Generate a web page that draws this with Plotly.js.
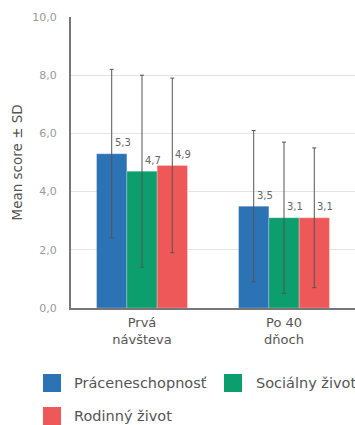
<!DOCTYPE html>
<html>
<head>
<meta charset="utf-8">
<script src="https://cdn.plot.ly/plotly-3.0.1.min.js"></script>
<style>html,body{margin:0;padding:0;background:#fff;overflow:hidden;}#chart{width:355px;height:425px;}</style>
</head>
<body>
<div id="chart"></div>
<script>
const categories = ["Prvá<br>návšteva", "Po 40<br>dňoch"];
const seriesNames = ["Práceneschopnosť", "Sociálny život", "Rodinný život"];
const praceneschopnost = [5.3, 3.5];
const socialny = [4.7, 3.1];
const rodinny = [4.9, 3.1];
const sdPrace = [2.9, 2.6];
const sdSocial = [3.3, 2.6];
const sdRodin = [3.0, 2.4];
const yTicks = [0, 2, 4, 6, 8, 10];
const yTitle = "Mean score ± SD";

const colors = ["#2c73b5", "#0c9e6c", "#ef5858"];
const values = [praceneschopnost, socialny, rodinny];
const sds = [sdPrace, sdSocial, sdRodin];
const bargap = 0.36;
const FONT = "DejaVu Sans, Verdana, sans-serif";

// plot-area geometry (pixels) used to convert layout positions to paper units
const M = {l: 71, r: 0, t: 17, b: 117};
const W = 355, H = 425;
const pw = W - M.l - M.r, ph = H - M.t - M.b;
const px = v => (v - M.l) / pw;
const py = v => (H - M.b - v) / ph;

const traces = values.map((v, i) => ({
  type: "bar",
  name: seriesNames[i],
  x: categories,
  y: v,
  marker: {color: colors[i], line: {color: "rgba(255,255,255,0.5)", width: 0.5}},
  error_y: {type: "data", array: sds[i], visible: true, color: "#555", thickness: 1, width: 2}
}));

const barW = (1 - bargap) / 3;
const annotations = [];
values.forEach((v, i) => {
  v.forEach((val, c) => {
    annotations.push({
      x: c + (i - 1) * barW, y: val, xref: "x", yref: "y",
      text: val.toFixed(1).replace(".", ","),
      showarrow: false, xanchor: "left", yanchor: "middle",
      xshift: 1, yshift: 11,
      font: {family: FONT, size: 10, color: "#666"}
    });
  });
});

// y-axis title
annotations.push({
  x: px(16), y: 0.5, xref: "paper", yref: "paper",
  text: yTitle, textangle: -90, showarrow: false,
  xanchor: "center", yanchor: "middle",
  font: {family: FONT, size: 13.5, color: "#555"}
});

// legend (custom, larger swatches)
const legendPos = [
  {sx: 43, sy: 374, tx: 72},
  {sx: 224, sy: 374, tx: 254},
  {sx: 43, sy: 407, tx: 72}
];
const shapes = [];
seriesNames.forEach((name, i) => {
  const p = legendPos[i];
  shapes.push({
    type: "rect", xref: "paper", yref: "paper",
    x0: px(p.sx), x1: px(p.sx + 18), y0: py(p.sy), y1: py(p.sy + 18),
    fillcolor: colors[i], line: {width: 0}
  });
  annotations.push({
    x: px(p.tx), y: py(p.sy + 9), xref: "paper", yref: "paper",
    text: name, showarrow: false, xanchor: "left", yanchor: "middle",
    font: {family: FONT, size: 14.5, color: "#555"}
  });
});

const layout = {
  width: W, height: H,
  margin: M,
  paper_bgcolor: "#fff", plot_bgcolor: "#fff",
  font: {family: FONT, color: "#555"},
  barmode: "group", bargap: bargap, bargroupgap: 0,
  separators: ", ",
  showlegend: false,
  xaxis: {
    type: "category", range: [-0.5, 1.5],
    showline: true, linecolor: "#777", linewidth: 1.5,
    ticks: "", tickfont: {size: 13, color: "#555"}, ticklabelstandoff: 2
  },
  yaxis: {
    range: [0, 10], tickvals: yTicks, tickformat: ".1f",
    showline: true, linecolor: "#777", linewidth: 2,
    showgrid: true, gridcolor: "#e4e4e4", gridwidth: 1,
    zeroline: false, ticks: "", ticklabelstandoff: 10,
    tickfont: {size: 11, color: "#999"}
  },
  shapes: shapes,
  annotations: annotations
};

Plotly.newPlot("chart", traces, layout, {displayModeBar: false, staticPlot: true});
</script>
</body>
</html>
